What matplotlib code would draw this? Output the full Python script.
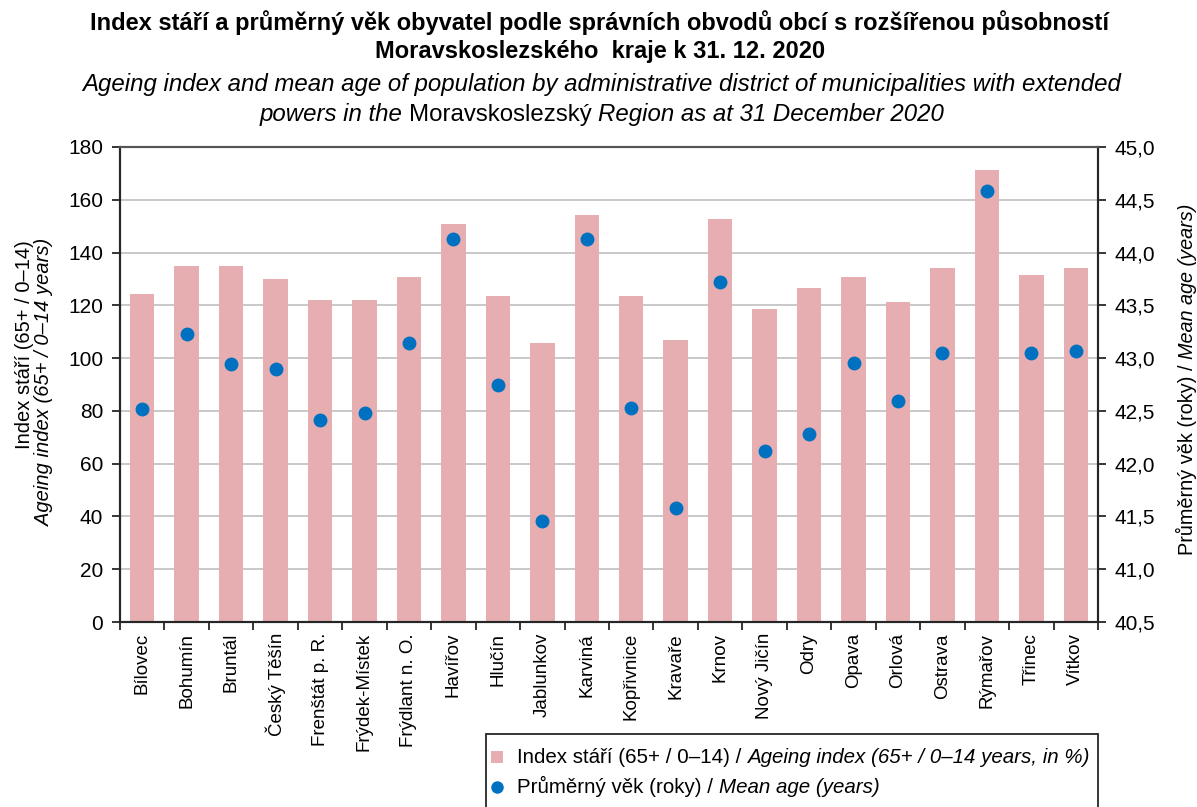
import matplotlib
matplotlib.use("Agg")
import matplotlib.pyplot as plt
import numpy as np
from matplotlib import font_manager as fm
from matplotlib.transforms import IdentityTransform
from matplotlib.patches import Rectangle
from matplotlib.lines import Line2D
from matplotlib.ticker import FuncFormatter, FixedLocator

# ---------------- data ----------------
districts = ["Bílovec", "Bohumín", "Bruntál", "Český Těšín", "Frenštát p. R.",
             "Frýdek-Místek", "Frýdlant n. O.", "Havířov", "Hlučín", "Jablunkov",
             "Karviná", "Kopřivnice", "Kravaře", "Krnov", "Nový Jičín", "Odry",
             "Opava", "Orlová", "Ostrava", "Rýmařov", "Třinec", "Vítkov"]
ageing_index = [124.3, 135.0, 135.0, 130.0, 122.2, 122.2, 130.7, 150.7, 123.7, 105.9,
                154.2, 123.7, 106.7, 152.8, 118.5, 126.4, 130.7, 121.4, 134.3, 171.4,
                131.4, 134.3]
mean_age = [42.52, 43.23, 42.94, 42.90, 42.41, 42.48, 43.14, 44.13, 42.75, 41.46,
            44.13, 42.53, 41.58, 43.72, 42.12, 42.28, 42.95, 42.59, 43.05, 44.58,
            43.05, 43.07]
left_ticks = [0, 20, 40, 60, 80, 100, 120, 140, 160, 180]
right_ticks = [40.5, 41.0, 41.5, 42.0, 42.5, 43.0, 43.5, 44.0, 44.5, 45.0]

# ---------------- style ----------------
names = {f.name for f in fm.fontManager.ttflist}
BASE = "Liberation Sans" if "Liberation Sans" in names else "DejaVu Sans"
NARROW = "Liberation Sans Narrow" if "Liberation Sans Narrow" in names else BASE
plt.rcParams["font.family"] = [BASE, "DejaVu Sans"]

BAR_C = "#E6AEB1"
DOT_C = "#0070C0"
GRID_C = "#C4C4C4"
AX_C = "#262626"

W, H = 1197, 807
fig = plt.figure(figsize=(W / 100, H / 100), dpi=100)
fig.patch.set_facecolor("white")

L, R, T, B = 120, 1098, 147, 622
ax = fig.add_axes([L / W, 1 - B / H, (R - L) / W, (B - T) / H])
ax2 = ax.twinx()

x = np.arange(len(districts))
ax.bar(x, ageing_index, width=0.55, color=BAR_C, zorder=2)
ax2.scatter(x, mean_age, s=100, color=DOT_C, zorder=3, linewidths=0)

ax.set_xlim(-0.5, len(districts) - 0.5)
ax.set_ylim(0, 180)
ax2.set_ylim(40.5, 45.0)
ax.set_axisbelow(True)
ax.yaxis.set_major_locator(FixedLocator(left_ticks))
ax2.yaxis.set_major_locator(FixedLocator(right_ticks))
ax.yaxis.grid(True, color=GRID_C, lw=1.3, zorder=0)
ax2.yaxis.set_major_formatter(FuncFormatter(lambda v, p: f"{v:.1f}".replace(".", ",")))

ax.set_xticks(x)
ax.set_xticklabels(districts, rotation=90, fontsize=13.5, family=BASE)
ax.tick_params(axis="x", which="major", length=0, pad=8)
ax.set_xticks(np.arange(-0.5, len(districts), 1.0), minor=True)
ax.tick_params(axis="x", which="minor", length=6, width=1.3, color=AX_C, direction="out")
ax.tick_params(axis="y", length=6, width=1.3, color=AX_C, direction="out", pad=6)
ax2.tick_params(axis="y", length=6, width=1.3, color=AX_C, direction="out", pad=6)
for lab in ax.get_yticklabels() + ax2.get_yticklabels():
    lab.set_family(NARROW)
    lab.set_fontsize(15)

for a in (ax, ax2):
    for s in a.spines.values():
        s.set_color(AX_C)
        s.set_linewidth(1.5)
ax.spines["top"].set_color("#555555")
ax2.spines["top"].set_color("#555555")

renderer = fig.canvas.get_renderer()


def text_width(s, **kw):
    t = fig.text(0, 0, s, transform=IdentityTransform(), **kw)
    w = t.get_window_extent(renderer).width
    t.remove()
    return w


def rich(xp, yp, pieces, size, family=BASE, weight="normal", rotation=0,
         align="center", color="black"):
    """pieces: list of (text, style); joined with single spaces.
    xp, yp: pixel coords (top-left origin) of baseline anchor."""
    kw = dict(fontsize=size, family=family, weight=weight)
    space = text_width("x x", **kw) - text_width("xx", **kw)
    widths = [text_width(s, fontstyle=st, **kw) for s, st in pieces]
    total = sum(widths) + space * (len(pieces) - 1)
    if rotation == 0:
        cur = xp - total / 2 if align == "center" else xp
        if align == "right":
            cur = xp - total
        for (s, st), w in zip(pieces, widths):
            fig.text(cur, H - yp, s, fontstyle=st, transform=IdentityTransform(),
                     ha="left", va="baseline", color=color, **kw)
            cur += w + space
    else:
        Y = H - yp
        cur = Y - total / 2 if align == "center" else Y
        if align == "right":
            cur = Y - total
        for (s, st), w in zip(pieces, widths):
            fig.text(xp, cur, s, fontstyle=st, transform=IdentityTransform(),
                     rotation=90, rotation_mode="anchor", ha="left", va="baseline",
                     color=color, **kw)
            cur += w + space


# ---------------- titles ----------------
rich(600, 30, [("Index stáří a průměrný věk obyvatel podle správních obvodů obcí s rozšířenou působností", "normal")],
     17, family=NARROW, weight="bold")
rich(600, 58, [("Moravskoslezského  kraje k 31. 12. 2020", "normal")],
     17, family=NARROW, weight="bold")
rich(602, 91, [("Ageing index and mean age of population by administrative district of municipalities with extended", "italic")],
     17.3, family=NARROW)
rich(602, 121, [("powers in the", "italic"), ("Moravskoslezský", "normal"),
                ("Region as at 31 December 2020", "italic")], 17.3, family=NARROW)

# ---------------- axis titles ----------------
rich(30, 240, [("Index stáří (65+ / 0–14)", "normal")], 14.5, rotation=90, align="right")
rich(50, 239, [("Ageing index (65+ / 0–14 years)", "italic")], 14.5, rotation=90, align="right")
rich(1193, 379, [("Průměrný věk (roky) /", "normal"), ("Mean age (years)", "italic")],
     14.3, rotation=90)

# ---------------- legend ----------------
fig.patches.append(Rectangle((486, H - 818), 612, 84, transform=IdentityTransform(),
                             fill=False, edgecolor=AX_C, lw=1.3, figure=fig))
fig.patches.append(Rectangle((491, H - 763), 12, 12, transform=IdentityTransform(),
                             facecolor=BAR_C, edgecolor="none", figure=fig))
fig.lines.append(Line2D([497], [H - 787], transform=IdentityTransform(), marker="o",
                        markersize=9, color=DOT_C, markeredgewidth=0, figure=fig))
rich(517, 763, [("Index stáří (65+ / 0–14) /", "normal"),
                ("Ageing index (65+ / 0–14 years, in %)", "italic")], 14.8,
     family=NARROW, align="left")
rich(517, 793, [("Průměrný věk (roky) /", "normal"), ("Mean age (years)", "italic")], 14.8,
     family=NARROW, align="left")

fig.savefig("out.png", dpi=100, facecolor="white")
